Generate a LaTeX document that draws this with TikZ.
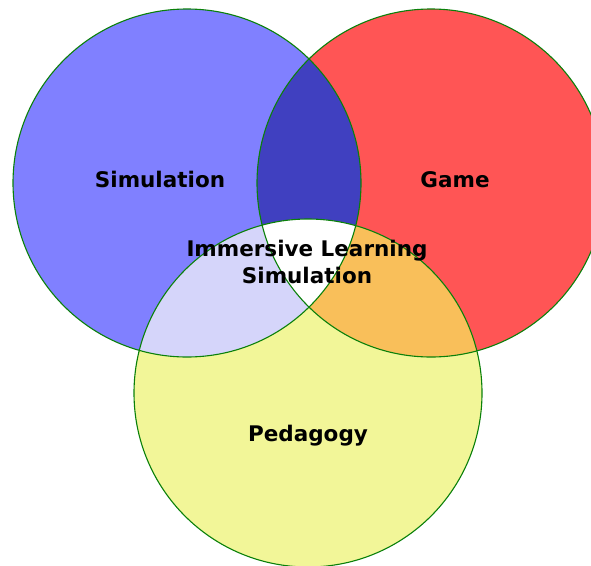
\documentclass[tikz,border=0pt]{standalone}
\usepackage{fontspec}
\setsansfont{DejaVu Sans}

\definecolor{simblue}{RGB}{128,128,255}
\definecolor{gamered}{RGB}{255,85,85}
\definecolor{pedyellow}{RGB}{242,246,152}
\definecolor{simgame}{RGB}{64,64,192}
\definecolor{simped}{RGB}{213,213,250}
\definecolor{gameped}{RGB}{249,191,90}
\definecolor{ringgreen}{RGB}{10,128,10}

\begin{document}
\begin{tikzpicture}[x=1pt,y=-1pt,
                    every node/.style={font=\sffamily\bfseries\fontsize{21.5}{27}\selectfont,align=center},
                    ring/.style={draw=ringgreen,line width=1.1pt}]
\useasboundingbox (0,0) rectangle (591,565);
\clip (0,0) rectangle (591,565);

\coordinate (sim) at (187,183);
\coordinate (game) at (431,183);
\coordinate (ped) at (308,393);

% the three sets
\fill[simblue] (sim) circle (174pt);
\fill[gamered] (game) circle (174pt);
\fill[pedyellow] (ped) circle (174pt);

% pairwise overlaps
\begin{scope}
  \clip (sim) circle (174pt);
  \fill[simgame] (game) circle (174pt);
  \fill[simped] (ped) circle (174pt);
\end{scope}
\begin{scope}
  \clip (game) circle (174pt);
  \fill[gameped] (ped) circle (174pt);
  \clip (sim) circle (174pt);
  \fill[white] (ped) circle (174pt);
\end{scope}

% outlines on top
\draw[ring] (sim) circle (174pt) (game) circle (174pt) (ped) circle (174pt);

\node[anchor=base] (simlabel) at (160,187) {Simulation};
\node[anchor=base] (gamelabel) at (455,187) {Game};
\node[anchor=base] (pedlabel) at (308,441) {Pedagogy};
\node (ils) at (307,262) {Immersive Learning\\Simulation};
\end{tikzpicture}
\end{document}
